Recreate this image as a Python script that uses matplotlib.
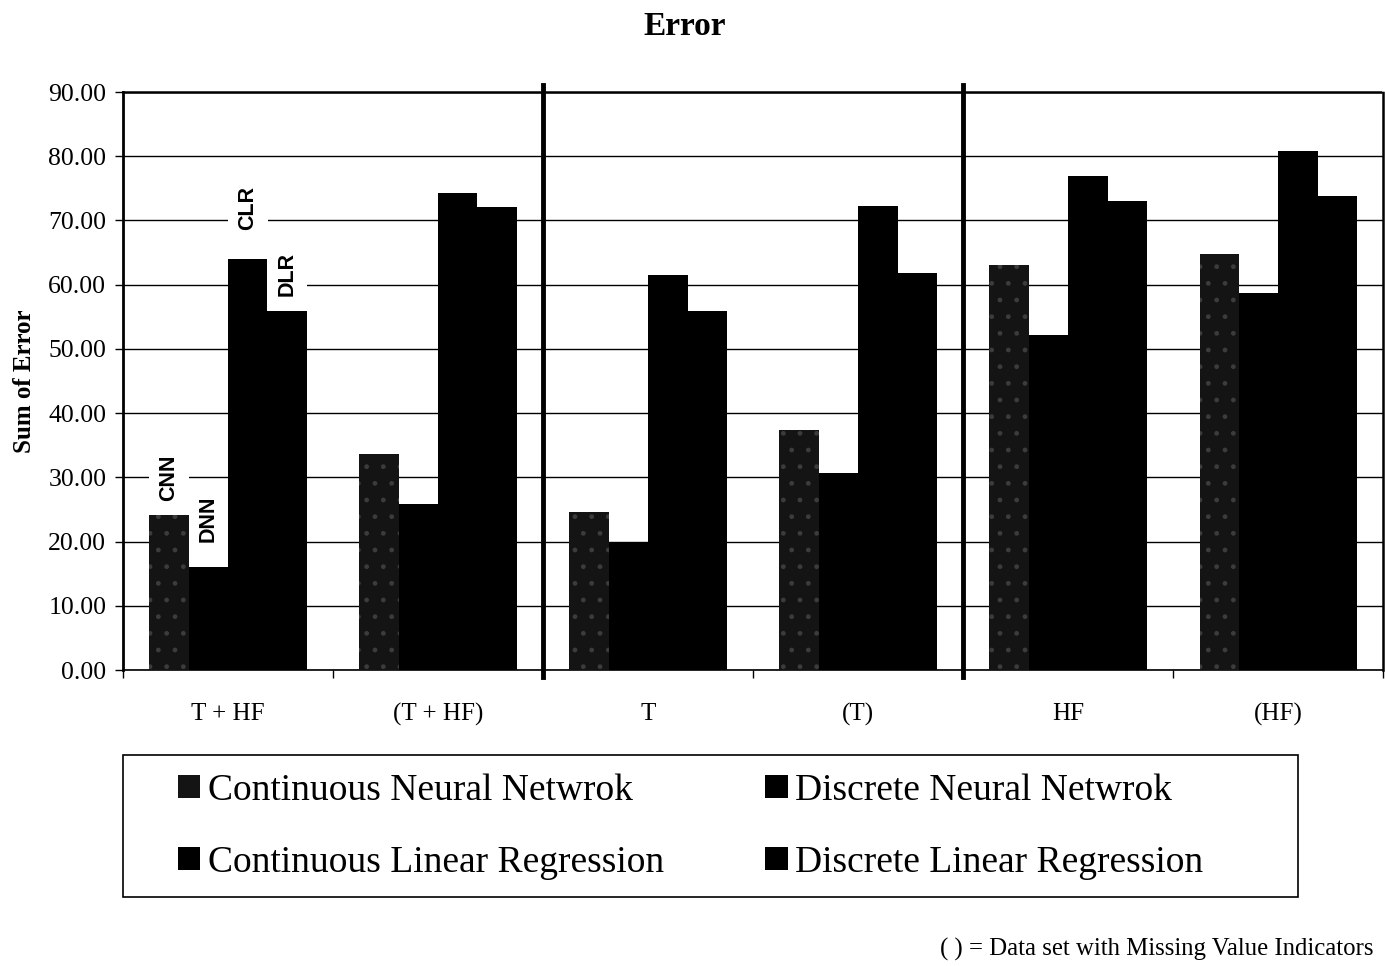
import numpy as np
import matplotlib
matplotlib.use("Agg")
import matplotlib.pyplot as plt
from matplotlib.patches import Patch, Rectangle

plt.rcParams['font.family'] = ['Liberation Serif', 'DejaVu Serif']

groups = ["T + HF", "(T + HF)", "T", "(T)", "HF", "(HF)"]
series = ["Continuous Neural Netwrok", "Discrete Neural Netwrok",
          "Continuous Linear Regression", "Discrete Linear Regression"]
short = ["CNN", "DNN", "CLR", "DLR"]

cnn = [24.1, 33.6, 24.6, 37.4, 63.1, 64.8]
dnn = [16.0, 25.9, 19.8, 30.7, 52.2, 58.7]
clr = [64.0, 74.3, 61.5, 72.3, 76.9, 80.8]
dlr = [55.9, 72.1, 55.9, 61.8, 73.1, 73.8]
values = [cnn, dnn, clr, dlr]

yticks = np.arange(0, 91, 10)

fig = plt.figure(figsize=(13.85, 9.66), dpi=100)
ax = fig.add_axes([0.0888, 0.3064, 0.9100, 0.5983])

x = np.arange(len(groups))
w = 0.1875
offsets = [-1.5 * w, -0.5 * w, 0.5 * w, 1.5 * w]

speckle = dict(color='#141414', edgecolor='#3c3c3c', linewidth=0, hatch='.')

for i, vals in enumerate(values):
    if i == 0:
        ax.bar(x + offsets[i], vals, w, zorder=3, **speckle)
    else:
        ax.bar(x + offsets[i], vals, w, color='black', linewidth=0, zorder=3)

# series tags over the first group (white boxes knock out the grid, bars stay on top)
label_gap = [2.2, 4.0, 4.5, 2.4]
for i, lab in enumerate(short):
    ax.text(x[0] + offsets[i], values[i][0] + label_gap[i], lab, rotation=90,
            ha='center', va='bottom', fontsize=15.5, fontweight='bold',
            family='Liberation Sans', zorder=2.5,
            bbox=dict(facecolor='white', edgecolor='none', pad=7))

ax.set_xlim(-0.5, len(groups) - 0.5)
ax.set_ylim(0, 90)
ax.set_yticks(yticks)
ax.set_yticklabels([f"{v:.2f}" for v in yticks], fontsize=18.5)
ax.yaxis.grid(True, color='black', linewidth=1.0, zorder=0)
ax.set_axisbelow(True)

ax.set_xticks(x)
ax.set_xticklabels(groups, fontsize=18)
ax.set_xticks(np.arange(-0.5, len(groups), 1.0), minor=True)
ax.tick_params(axis='x', which='major', length=0, pad=24)
ax.tick_params(axis='x', which='minor', length=6, width=1, direction='out')
ax.tick_params(axis='y', length=6, width=1, direction='out', pad=6)

ax.spines['left'].set_linewidth(2)
ax.spines['bottom'].set_linewidth(1.2)
ax.spines['top'].set_linestyle((0, (1, 1)))
ax.spines['top'].set_linewidth(1.8)
ax.spines['right'].set_linestyle((0, (1, 1)))
ax.spines['right'].set_linewidth(1.8)

# separators between data set families
for sx in [1.5, 3.5]:
    ax.axvline(sx, ymin=-0.012, ymax=1.012, color='black', linewidth=3.5,
               clip_on=False, zorder=5)

ax.set_ylabel("Sum of Error", fontsize=18, fontweight='bold', labelpad=9)
fig.text(0.4946, 0.973, "Error", ha='center', va='center', fontsize=24,
         fontweight='bold')

handles = [
    Patch(**speckle),
    Patch(facecolor='black'),
    Patch(facecolor='black'),
    Patch(facecolor='black'),
]
order = [0, 2, 1, 3]
fig.legend([handles[i] for i in order], [series[i] for i in order],
           loc='center left', bbox_to_anchor=(0.1285, 0.1445), ncol=2,
           frameon=False, fontsize=27, handlelength=0.6, handleheight=0.6,
           handletextpad=0.2, columnspacing=2.7, labelspacing=1.0,
           borderpad=0, borderaxespad=0)
fig.patches.append(Rectangle((0.0888, 0.0714), 0.8484, 0.1470,
                             transform=fig.transFigure, fill=False,
                             edgecolor='black', linewidth=1.2))

fig.text(0.992, 0.017, "( ) = Data set with Missing Value Indicators",
         ha='right', va='center', fontsize=17.8)

fig.savefig("out.png", dpi=100)
